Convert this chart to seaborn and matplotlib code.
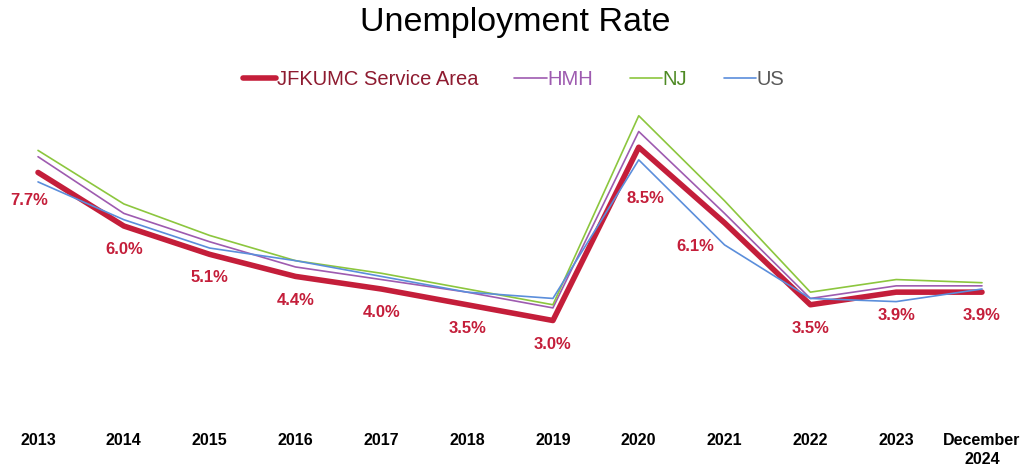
import pandas as pd
import seaborn as sns
import matplotlib.pyplot as plt
import numpy as np


# -----------------------------
# DATA
# -----------------------------
years = ["2013", "2014", "2015", "2016", "2017", "2018",
         "2019", "2020", "2021", "2022", "2023", "December\n2024"]

jfkumc = [7.7, 6.0, 5.1, 4.4, 4.0, 3.5, 3.0, 8.5, 6.1, 3.5, 3.9, 3.9]
hmh = [8.2, 6.4, 5.5, 4.7, 4.3, 3.9, 3.4, 9.0, 6.4, 3.7, 4.1, 4.1]
nj = [8.4, 6.7, 5.7, 4.9, 4.5, 4.0, 3.5, 9.5, 6.8, 3.9, 4.3, 4.2]
us = [7.4, 6.2, 5.3, 4.9, 4.4, 3.9, 3.7, 8.1, 5.4, 3.7, 3.6, 4.0]

series_names = ["JFKUMC Service Area", "HMH", "NJ", "US"]


# -----------------------------
# STYLE
# -----------------------------
sns.set_style("white")
plt.rcParams["font.family"] = ["Liberation Sans", "DejaVu Sans"]

line_colors = {"JFKUMC Service Area": "#C41E3A", "HMH": "#9E5BB0",
               "NJ": "#8CC63E", "US": "#5B8EDB"}
text_colors = {"JFKUMC Service Area": "#8E1B30", "HMH": "#9E5BB0",
               "NJ": "#4E8A24", "US": "#595959"}
widths = {"JFKUMC Service Area": 4.0, "HMH": 1.2, "NJ": 1.2, "US": 1.2}

# label nudges in points (dx, dy) for the JFKUMC value labels
label_nudge = {0: (-6, -20), 7: (5, -37), 8: (-21, -17)}


# -----------------------------
# PLOT
# -----------------------------
pos = np.arange(len(years))
df = pd.DataFrame({
    "pos": np.tile(pos, 4),
    "rate": jfkumc + hmh + nj + us,
    "series": np.repeat(series_names, len(years)),
})

fig = plt.figure(figsize=(10.31, 4.73), dpi=100)
ax = fig.add_axes([0.0, 0.1226, 1.0, 0.666])

for name in series_names:
    sns.lineplot(data=df[df["series"] == name], x="pos", y="rate",
                 color=line_colors[name], linewidth=widths[name],
                 label=name, ax=ax, sort=False, solid_capstyle="round")

for i, v in enumerate(jfkumc):
    dx, dy = label_nudge.get(i, (0, -17))
    ax.annotate(f"{v:.1f}%", (pos[i], v), xytext=(dx, dy),
                textcoords="offset points", ha="center", va="center",
                fontsize=12, fontweight="bold", color="#C41E3A")

ax.set_xlim(-0.443, 11.571)
ax.set_ylim(0, 10)
ax.set_xticks(pos)
ax.set_xticklabels(years, fontsize=11.5, fontweight="bold", color="black",
                   va="top", linespacing=1.3)
ax.tick_params(axis="x", length=0, pad=13)
ax.set_yticks([])
ax.set_xlabel("")
ax.set_ylabel("")
sns.despine(ax=ax, left=True, bottom=True)

ax.get_legend().remove()
handles, labels = ax.get_legend_handles_labels()
leg = fig.legend(handles, labels, loc="center", bbox_to_anchor=(0.4985, 0.831),
                 ncol=4, frameon=False, fontsize=14.5, handlelength=1.6,
                 handletextpad=0.05, columnspacing=1.8)
for txt in leg.get_texts():
    txt.set_color(text_colors[txt.get_text()])

fig.suptitle("Unemployment Rate", x=0.5, y=0.952, fontsize=24.5,
             va="center", color="black")

fig.savefig("out.png", dpi=100)
